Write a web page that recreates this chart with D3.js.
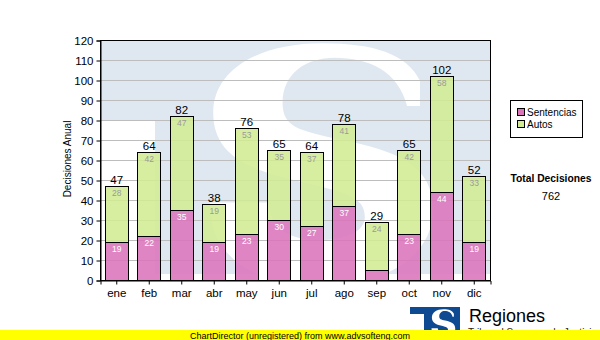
<!DOCTYPE html>
<html>
<head>
<meta charset="utf-8">
<script src="https://cdn.jsdelivr.net/npm/d3@7"></script>
<style>
  body { margin: 0; background: #fff; }
  svg { display: block; }
  text { font-family: "Liberation Sans", Arial, sans-serif; }
</style>
</head>
<body>
<svg id="chart" width="600" height="340"></svg>
<script>
// Monthly decisions, stacked by type
const months = ["ene", "feb", "mar", "abr", "may", "jun", "jul", "ago", "sep", "oct", "nov", "dic"];
const sentencias = [19, 22, 35, 19, 23, 30, 27, 37, 5, 23, 44, 19];
const autos = [28, 42, 47, 19, 53, 35, 37, 41, 24, 42, 58, 33];
const seriesNames = ["Sentencias", "Autos"];
const yTicks = [0, 10, 20, 30, 40, 50, 60, 70, 80, 90, 100, 110, 120];
const yTitle = "Decisiones Anual";
const totalTitle = "Total Decisiones";
const brandName = "Regiones";
const brandSub = "Tribunal Supremo de Justicia";
const footer = "ChartDirector (unregistered) from www.advsofteng.com";

const colors = { Sentencias: "#dc74bc", Autos: "#d2ec94" };

const svg = d3.select("#chart");
const plot = { left: 100, right: 490, top: 40, bottom: 280 };

const x = d3.scaleBand().domain(months).range([plot.left, plot.right])
  .paddingInner(0.28).paddingOuter(0.14);
const y = d3.scaleLinear().domain([0, 120]).range([plot.bottom, plot.top]);

// "S" letterform of the brand mark, in a unit box
const sPath = "M0.915,0.16 C0.86,0.05 0.72,0.005 0.50,0.005 C0.22,0.005 0.035,0.12 0.035,0.29 " +
  "C0.035,0.47 0.19,0.53 0.43,0.58 C0.63,0.625 0.68,0.65 0.68,0.72 " +
  "C0.68,0.78 0.60,0.815 0.49,0.815 C0.36,0.815 0.28,0.77 0.27,0.66 L0.02,0.66 " +
  "C0.02,0.89 0.21,1 0.50,1 C0.79,1 0.97,0.87 0.97,0.69 " +
  "C0.97,0.51 0.83,0.45 0.57,0.40 C0.40,0.365 0.33,0.35 0.33,0.25 " +
  "C0.33,0.13 0.43,0.065 0.55,0.065 C0.70,0.065 0.82,0.12 0.86,0.263 L0.915,0.263 Z";

// Plot background: faded brand mark
svg.append("clipPath").attr("id", "plotClip")
  .append("rect").attr("x", plot.left).attr("y", plot.top)
  .attr("width", plot.right - plot.left).attr("height", plot.bottom - plot.top);

const wm = svg.append("g").attr("clip-path", "url(#plotClip)");
wm.append("rect").attr("x", plot.left).attr("y", plot.top)
  .attr("width", plot.right - plot.left).attr("height", 234).attr("fill", "#dfe8f1");
wm.append("rect").attr("x", plot.left).attr("y", 120)
  .attr("width", 55).attr("height", 170).attr("fill", "#fff");
wm.append("path").attr("d", sPath).attr("fill", "#fff")
  .attr("transform", "translate(205,42) scale(235,243)");

// Horizontal grid
svg.append("g").selectAll("line")
  .data(yTicks.filter(t => t > 0 && t < 120))
  .join("line")
  .attr("x1", plot.left).attr("x2", plot.right)
  .attr("y1", d => Math.round(y(d)) + 0.5).attr("y2", d => Math.round(y(d)) + 0.5)
  .attr("stroke", "#bdbdbd").attr("stroke-width", 1);

// Stacked bars
const rows = months.map((m, i) => ({ month: m, Sentencias: sentencias[i], Autos: autos[i] }));
const stack = d3.stack().keys(seriesNames)(rows);

const barG = svg.append("g");
stack.forEach(layer => {
  barG.append("g").selectAll("rect")
    .data(layer)
    .join("rect")
    .attr("x", d => Math.round(x(d.data.month)) + 0.5)
    .attr("y", d => Math.round(y(d[1])) + 0.5)
    .attr("width", Math.round(x.bandwidth()))
    .attr("height", d => Math.round(y(d[0])) - Math.round(y(d[1])))
    .attr("fill", colors[layer.key])
    .attr("fill-opacity", 0.88)
    .attr("stroke", "#000").attr("stroke-width", 1);
});

// Segment value labels
const cx = m => x(m) + x.bandwidth() / 2 + 0.5;
stack.forEach(layer => {
  barG.append("g").selectAll("text")
    .data(layer.filter(d => d[1] - d[0] >= 8))
    .join("text")
    .attr("x", d => cx(d.data.month))
    .attr("y", d => y(d[1]) + 10)
    .attr("text-anchor", "middle")
    .attr("font-size", "8.5px")
    .attr("fill", layer.key === "Autos" ? "#9a9a9a" : "#fff")
    .text(d => d[1] - d[0]);
});

// Totals above bars
barG.append("g").selectAll("text")
  .data(rows)
  .join("text")
  .attr("x", d => cx(d.month))
  .attr("y", d => y(d.Sentencias + d.Autos) - 2)
  .attr("text-anchor", "middle")
  .attr("font-size", "11.5px")
  .attr("fill", "#000")
  .text(d => d.Sentencias + d.Autos);

// Frame
svg.append("rect").attr("x", plot.left + 0.5).attr("y", plot.top + 0.5)
  .attr("width", plot.right - plot.left).attr("height", plot.bottom - plot.top)
  .attr("fill", "none").attr("stroke", "#000");

// Axes
const yAxis = svg.append("g")
  .attr("transform", `translate(${plot.left + 0.5},0.5)`)
  .call(d3.axisLeft(y).tickValues(yTicks).tickSize(4).tickPadding(3));
const xAxis = svg.append("g")
  .attr("transform", `translate(0.5,${plot.bottom + 0.5})`)
  .call(d3.axisBottom(x).tickSize(4).tickPadding(4));
[yAxis, xAxis].forEach(g => {
  g.select(".domain").attr("stroke", "#000");
  g.selectAll(".tick line").attr("stroke", "#000");
  g.selectAll(".tick text").attr("fill", "#000")
    .attr("font-family", '"Liberation Sans", Arial, sans-serif').attr("font-size", "11.5px");
});

svg.append("text")
  .attr("transform", `translate(71,159) rotate(-90)`)
  .attr("text-anchor", "middle").attr("font-size", "10px").attr("fill", "#000")
  .text(yTitle);

// Legend
const lg = svg.append("g");
lg.append("rect").attr("x", 510.5).attr("y", 100.5).attr("width", 72).attr("height", 37)
  .attr("fill", "#fff").attr("stroke", "#000");
seriesNames.forEach((name, i) => {
  lg.append("rect").attr("x", 517.5).attr("y", 108.5 + i * 12).attr("width", 7).attr("height", 7)
    .attr("fill", colors[name]).attr("stroke", "#000");
  lg.append("text").attr("x", 527).attr("y", 116 + i * 12)
    .attr("font-size", "10px").attr("fill", "#000").text(name);
});

// Grand total
svg.append("text").attr("x", 551).attr("y", 182).attr("text-anchor", "middle")
  .attr("font-size", "10.3px").attr("font-weight", "bold").attr("fill", "#000").text(totalTitle);
svg.append("text").attr("x", 551).attr("y", 200).attr("text-anchor", "middle")
  .attr("font-size", "11px").attr("fill", "#000")
  .text(d3.sum(sentencias) + d3.sum(autos));

// Brand mark
const logo = svg.append("g");
logo.append("rect").attr("x", 410).attr("y", 307).attr("width", 50).attr("height", 33).attr("fill", "#0d4a91");
logo.append("rect").attr("x", 410).attr("y", 314).attr("width", 14).attr("height", 26).attr("fill", "#fff");
logo.append("path").attr("d", sPath).attr("fill", "#fff")
  .attr("transform", "translate(431,309) scale(25,29)");
logo.append("text").attr("x", 469).attr("y", 322).attr("font-size", "18px").attr("fill", "#000").text(brandName);
logo.append("text").attr("x", 468).attr("y", 336).attr("font-size", "10px").attr("fill", "#222").text(brandSub);

// Footer strip
svg.append("rect").attr("x", 0).attr("y", 330).attr("width", 600).attr("height", 10).attr("fill", "#ffff00");
svg.append("text").attr("x", 300).attr("y", 338.5).attr("text-anchor", "middle")
  .attr("font-size", "9px").attr("fill", "#000").text(footer);
</script>
</body>
</html>
